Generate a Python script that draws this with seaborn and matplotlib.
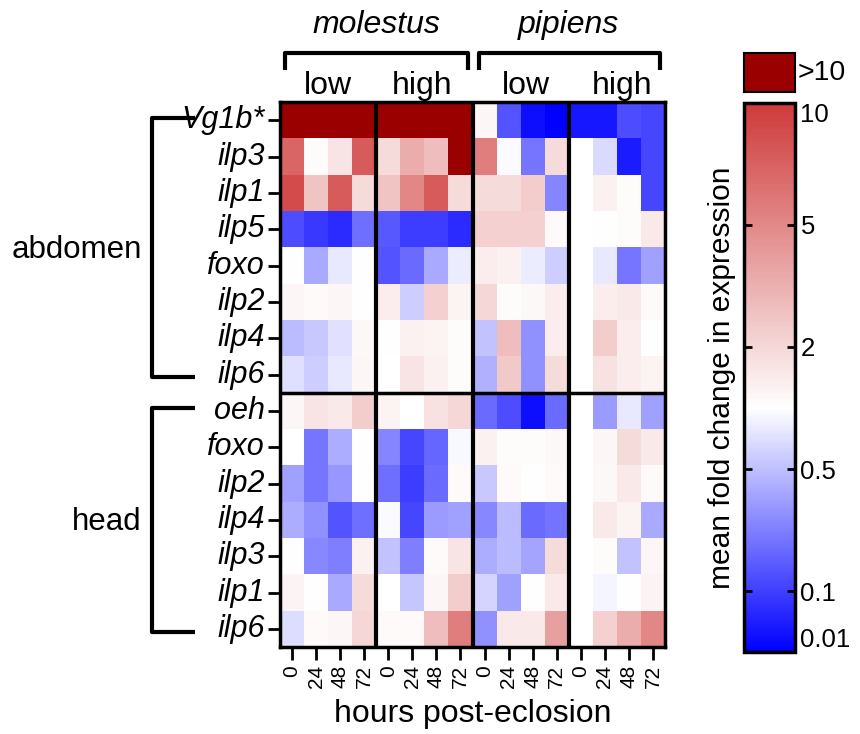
import numpy as np
import pandas as pd
import seaborn as sns
import matplotlib.pyplot as plt
from matplotlib.colors import LinearSegmentedColormap

plt.rcParams['font.family'] = 'Liberation Sans'

genes = ['Vg1b*', 'ilp3', 'ilp1', 'ilp5', 'foxo', 'ilp2', 'ilp4', 'ilp6',
         'oeh', 'foxo', 'ilp2', 'ilp4', 'ilp3', 'ilp1', 'ilp6']
hours = ['0', '24', '48', '72']

# mean fold change, rows = genes (abdomen then head), cols = hours
molestus_low = [
    [20, 20, 20, 20],
    [6.85, 1.07, 1.6, 7.4],
    [8.6, 2.5, 7.4, 1.86],
    [0.12, 0.078, 0.047, 0.18],
    [1.03, 0.38, 0.77, 1.03],
    [1.17, 1.1, 1.17, 1.03],
    [0.48, 0.55, 0.72, 1.13],
    [0.71, 0.58, 0.77, 1.17],
    [1.17, 1.6, 1.45, 2.3],
    [1.0, 0.2, 0.4, 1.03],
    [0.34, 0.2, 0.3, 1.03],
    [0.4, 0.28, 0.13, 0.18],
    [1.03, 0.25, 0.22, 1.27],
    [1.2, 1.03, 0.38, 1.86],
    [0.69, 1.1, 1.17, 1.99],
]
molestus_high = [
    [20, 20, 20, 20],
    [1.86, 3.3, 2.72, 20],
    [2.5, 5.07, 7.4, 1.86],
    [0.135, 0.095, 0.095, 0.047],
    [0.13, 0.17, 0.38, 0.81],
    [1.37, 0.58, 2.16, 1.24],
    [1.03, 1.27, 1.24, 1.07],
    [1.0, 1.6, 1.27, 1.07],
    [1.24, 1.0, 1.7, 1.99],
    [0.24, 0.11, 0.16, 0.92],
    [0.18, 0.095, 0.17, 1.1],
    [0.95, 0.11, 0.32, 0.34],
    [0.51, 0.22, 1.1, 1.6],
    [1.0, 0.54, 1.17, 2.3],
    [1.1, 1.1, 2.72, 5.47],
]
pipiens_low = [
    [1.17, 0.13, 0.017, 0.01],
    [5.47, 0.95, 0.2, 1.86],
    [1.86, 1.86, 2.3, 0.24],
    [2.16, 2.16, 2.16, 1.1],
    [1.37, 1.27, 0.81, 0.58],
    [1.99, 1.07, 1.13, 1.37],
    [0.51, 2.72, 0.28, 1.37],
    [0.41, 2.36, 0.28, 1.86],
    [0.17, 0.12, 0.017, 0.17],
    [1.27, 1.07, 1.07, 1.13],
    [0.55, 1.1, 1.03, 1.1],
    [0.25, 0.47, 0.17, 0.19],
    [0.4, 0.47, 0.36, 1.86],
    [0.62, 0.34, 1.03, 1.45],
    [0.28, 1.45, 1.45, 3.84],
]
pipiens_high = [
    [0.023, 0.023, 0.12, 0.11],
    [1.0, 0.67, 0.028, 0.11],
    [1.0, 1.27, 1.07, 0.11],
    [1.0, 1.03, 1.07, 1.45],
    [1.0, 0.77, 0.2, 0.34],
    [1.0, 1.37, 1.45, 1.1],
    [1.0, 2.3, 1.37, 1.03],
    [1.0, 1.7, 1.37, 1.24],
    [1.0, 0.32, 0.77, 0.34],
    [1.0, 1.17, 1.86, 1.45],
    [1.0, 1.13, 1.45, 1.1],
    [1.0, 1.45, 1.24, 0.38],
    [1.0, 1.07, 0.51, 1.17],
    [1.0, 0.9, 1.03, 1.2],
    [1.0, 2.16, 3.3, 5.07],
]

# colour scale ticks, evenly spaced on the bar (0 = bottom, 1 = top)
tick_vals = [0.01, 0.1, 0.5, 2, 5, 10]
tick_labels = ['0.01', '0.1', '0.5', '2', '5', '10']
tick_pos = [0, 1/9, 3/9, 5/9, 7/9, 1.0]

fold = np.hstack([np.array(molestus_low), np.array(molestus_high),
                  np.array(pipiens_low), np.array(pipiens_high)])
pos = np.interp(np.log10(fold), np.log10(tick_vals), tick_pos)
pos[fold > 10] = 1.5
df = pd.DataFrame(pos, index=genes, columns=hours * 4)

cmap = LinearSegmentedColormap.from_list(
    'bwr2', [(0, '#0000ff'), (0.444, '#ffffff'), (1, '#cf3a3a')])
cmap.set_over('#9a0000')

fig = plt.figure(figsize=(8.6, 7.34), dpi=100)
ax = fig.add_axes([0.3256, 0.1185, 0.4477, 0.7425])
cax = fig.add_axes([0.865, 0.1117, 0.0593, 0.748])
oax = fig.add_axes([0.865, 0.8747, 0.0593, 0.053])

sns.heatmap(df, ax=ax, cmap=cmap, vmin=0, vmax=1, cbar_ax=cax,
            cbar_kws={'ticks': tick_pos})

for s in ax.spines.values():
    s.set_visible(True)
    s.set_linewidth(2.5)
for x in [4, 8, 12]:
    ax.axvline(x, color='k', lw=3)
ax.axhline(8, color='k', lw=2.5)

ax.set_yticklabels(genes, rotation=0, fontsize=22, style='italic')
ax.set_xticklabels(hours * 4, rotation=90, fontsize=15)
ax.tick_params(axis='both', length=9, width=2, pad=2)
ax.tick_params(axis='x', pad=4)
ax.set_xlabel('hours post-eclosion', fontsize=23, labelpad=8)
ax.set_ylabel('')

# top group headers
kw = dict(color='k', lw=3, clip_on=False, solid_capstyle='butt')
ax.plot([0.2, 0.2, 7.8, 7.8], [-0.88, -1.35, -1.35, -0.88], **kw)
ax.plot([8.25, 8.25, 15.8, 15.8], [-0.88, -1.35, -1.35, -0.88], **kw)
ax.text(4.0, -2.12, 'molestus', fontsize=23, style='italic', ha='center', va='center')
ax.text(12.0, -2.12, 'pipiens', fontsize=23, style='italic', ha='center', va='center')
for x, t in zip([2.0, 5.9, 10.2, 14.2], ['low', 'high', 'low', 'high']):
    ax.text(x, -0.45, t, fontsize=23, ha='center', va='center')

# left tissue brackets
ax.plot([-3.55, -5.32, -5.32, -3.55], [0.44, 0.44, 7.57, 7.57], **kw)
ax.plot([-3.55, -5.32, -5.32, -3.55], [8.42, 8.42, 14.59, 14.59], **kw)
ax.text(-5.75, 4.07, 'abdomen', fontsize=22.5, ha='right', va='center')
ax.text(-5.75, 11.56, 'head', fontsize=22.5, ha='right', va='center')

# colour bar
cbar = ax.collections[0].colorbar
cbar.outline.set_linewidth(2.5)
cbar.outline.set_edgecolor('k')
cax.set_yticklabels(tick_labels, fontsize=18.5)
cax.tick_params(axis='y', direction='in', length=6, width=2, left=True, right=True,
                labelleft=False, labelright=True, pad=4)
labs = cax.get_yticklabels()
labs[0].set_va('bottom')
labs[-1].set_va('top')
cax.yaxis.set_label_position('left')
cax.set_ylabel('mean fold change in expression', fontsize=21.5, labelpad=6)

oax.set_facecolor('#9a0000')
oax.set_xticks([])
oax.set_yticks([])
for s in oax.spines.values():
    s.set_linewidth(1.5)
oax.text(1.05, 0.5, '>10', fontsize=20.5, transform=oax.transAxes, va='center', ha='left')

fig.savefig('out.png', dpi=100)
